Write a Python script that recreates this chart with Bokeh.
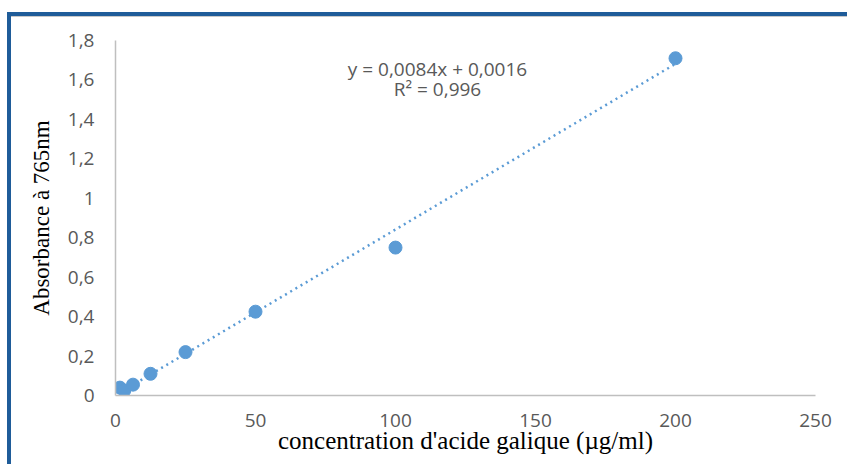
from bokeh.plotting import figure
from bokeh.models import ColumnDataSource, FixedTicker, Range1d, InlineStyleSheet
from bokeh.core.properties import value
from bokeh.embed import file_html
from bokeh.resources import INLINE

# data
concentration = [1.5625, 3.125, 6.25, 12.5, 25, 50, 100, 200]
absorbance = [0.04, 0.025, 0.055, 0.11, 0.22, 0.425, 0.75, 1.71]
slope = 0.0084
intercept = 0.0016
r2_text = "R² = 0,996"
eq_text = "y = 0,0084x + 0,0016"
x_ticks = [0, 50, 100, 150, 200, 250]
y_ticks = [0, 0.2, 0.4, 0.6, 0.8, 1.0, 1.2, 1.4, 1.6, 1.8]
y_tick_labels = ["0", "0,2", "0,4", "0,6", "0,8", "1", "1,2", "1,4", "1,6", "1,8"]

W, H = 847, 464
frame_css = InlineStyleSheet(css="""
:host::after { content: ''; position: absolute; left: 7px; top: 12px; width: 900px; height: 600px;
  border-top: 4px solid #1F5C99; border-left: 4px solid #1F5C99; pointer-events: none; z-index: 10; }
:host::before { content: ''; position: absolute; left: 11px; top: 16px; width: 900px; height: 1px;
  background: #C8C8C8; pointer-events: none; z-index: 10; }
""")
p = figure(width=W, height=H, output_backend="svg", toolbar_location=None,
           x_range=Range1d(0, 250), y_range=Range1d(0, 1.8),
           min_border_left=115, min_border_right=32, min_border_top=40, min_border_bottom=69,
           stylesheets=[frame_css])
p.xgrid.visible = False
p.ygrid.visible = False
p.outline_line_color = None
p.background_fill_color = "white"
p.border_fill_color = "white"

blue = "#5B9BD5"
# trendline
tx = [min(concentration), max(concentration)]
ty = [slope * v + intercept for v in tx]
p.line(tx, ty, line_color=blue, line_width=2.5, line_dash="2 4")
src = ColumnDataSource(dict(x=concentration, y=absorbance))
p.scatter("x", "y", source=src, size=13, fill_color=blue, line_color=blue)

p.text(x=[115, 115], y=[1.658, 1.555], text=[eq_text, r2_text],
       text_align="center", text_baseline="middle",
       text_font=value("Open Sans"), text_font_size="19px", text_color="#595959")

for ax in (p.xaxis[0], p.yaxis[0]):
    ax.axis_line_color = "#BFBFBF"
    ax.axis_line_width = 1.5
    ax.major_tick_line_color = None
    ax.minor_tick_line_color = None
    ax.major_label_text_font = "Open Sans"
    ax.major_label_text_font_size = "19px"
    ax.major_label_text_color = "#595959"
    ax.axis_label_text_font = "Liberation Serif"
    ax.axis_label_text_font_style = "normal"
    ax.axis_label_text_color = "black"

p.xaxis.axis_label_text_font_size = "25px"
p.yaxis.axis_label_text_font_size = "23px"
p.xaxis.ticker = FixedTicker(ticks=x_ticks)
p.yaxis.ticker = FixedTicker(ticks=y_ticks)
p.yaxis.major_label_overrides = {t: l for t, l in zip(y_ticks, y_tick_labels)}
p.xaxis.major_label_standoff = 12
p.yaxis.major_label_standoff = 15
p.xaxis.axis_label = "concentration d'acide galique (µg/ml)"
p.yaxis.axis_label = "Absorbance à 765nm"
p.xaxis.axis_label_standoff = -3
p.yaxis.axis_label_standoff = 11

open("out.html", "w").write(file_html(p, INLINE))
